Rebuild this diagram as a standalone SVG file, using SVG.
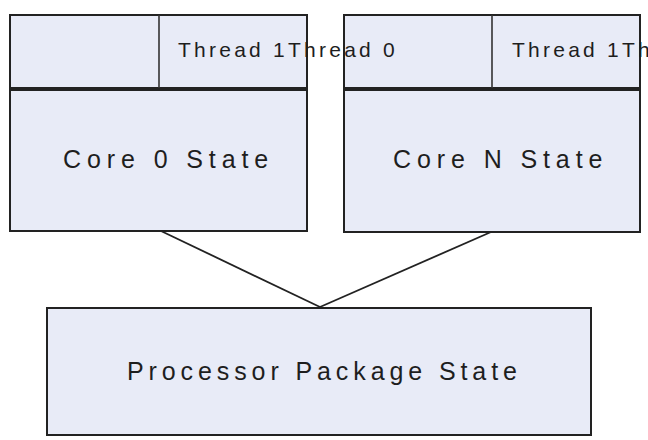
<svg xmlns="http://www.w3.org/2000/svg" width="648" height="440" viewBox="0 0 648 440">
  <style>
    .box { fill: #e8ebf7; stroke: #222; stroke-width: 2; }
    .div { stroke: #333; stroke-width: 1.6; }
    .conn { stroke: #222; stroke-width: 1.8; fill: none; }
    .t { font-family: "Liberation Sans", Arial, sans-serif; fill: #1e1e1e; }
    .thr { font-size: 21px; letter-spacing: 3.25px; }
    .core { font-size: 25px; letter-spacing: 5.9px; }
    .pkg { font-size: 25px; letter-spacing: 4.9px; }
  </style>
  <rect width="648" height="440" fill="#ffffff"/>
  <g id="connectors">
    <line class="conn" x1="161" y1="231" x2="320" y2="307"/>
    <line class="conn" x1="491" y1="232" x2="320" y2="307"/>
  </g>
  <g id="threads0">
    <rect class="box" x="10" y="15" width="297" height="73"/>
    <line class="div" x1="159" y1="15" x2="159" y2="88"/>
  </g>
  <g id="core0">
    <rect class="box" x="10" y="90" width="297" height="141"/>
    <text class="t core" x="63" y="168">Core 0 State</text>
  </g>
  <g id="threadsN">
    <rect class="box" x="344" y="15" width="296" height="73"/>
    <line class="div" x1="492" y1="15" x2="492" y2="88"/>
  </g>
  <g id="coreN">
    <rect class="box" x="344" y="90" width="296" height="142"/>
    <text class="t core" x="393" y="168">Core N State</text>
  </g>
  <g id="package">
    <rect class="box" x="47" y="308" width="544" height="127"/>
    <text class="t pkg" x="127" y="380">Processor Package State</text>
  </g>
  <g id="thread-labels">
    <text class="t thr" x="178" y="57">Thread 1</text>
    <text class="t thr" x="288" y="57">Thread 0</text>
    <text class="t thr" x="512" y="57">Thread 1</text>
    <text class="t thr" x="622" y="57">Thread 0</text>
  </g>
</svg>
